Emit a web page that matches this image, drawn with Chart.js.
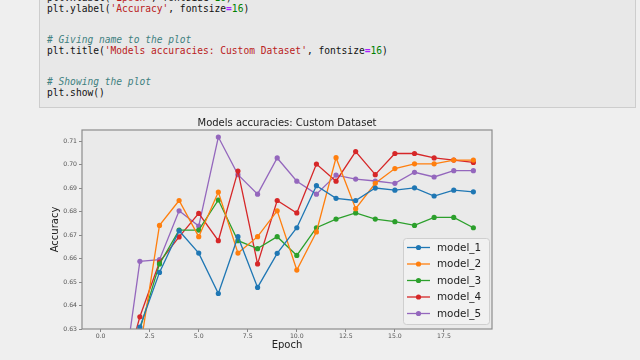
<!DOCTYPE html>
<html><head><meta charset="utf-8">
<script src="https://cdn.jsdelivr.net/npm/chart.js@4/dist/chart.umd.min.js"></script>
<style>
html,body{margin:0;padding:0;width:640px;height:360px;overflow:hidden;background:#efefef;}
#code{position:absolute;left:39px;top:-20px;width:597px;height:128px;background:#e8e8e8;border:1px solid #cdcdcd;box-sizing:border-box;overflow:hidden;}
#code pre{margin:0;position:absolute;left:7px;top:12px;font-family:"DejaVu Sans Mono","Liberation Mono",monospace;font-size:9.6px;line-height:10.5px;color:#111;}
.c{color:#408080;font-style:italic}.s{color:#ba2121}.o{color:#aa22ff;font-weight:bold}.n{color:#008000}
#cv{position:absolute;left:0;top:0;}
</style></head>
<body>
<div id="code"><pre>plt.xlabel(<span class="s">'Epoch'</span>, fontsize<span class="o">=</span><span class="n">16</span>)
plt.ylabel(<span class="s">'Accuracy'</span>, fontsize<span class="o">=</span><span class="n">16</span>)


<span class="c"># Giving name to the plot</span>
plt.title(<span class="s">'Models accuracies: Custom Dataset'</span>, fontsize<span class="o">=</span><span class="n">16</span>)


<span class="c"># Showing the plot</span>
plt.show()</pre></div>
<canvas id="cv" width="640" height="360"></canvas>
<script>
const epochs = [0,1,2,3,4,5,6,7,8,9,10,11,12,13,14,15,16,17,18,19];
const model_1 = [0.45,0.600,0.6308,0.6541,0.6718,0.6623,0.6451,0.6693,0.6477,0.6622,0.6731,0.6910,0.6856,0.6847,0.6900,0.6891,0.6901,0.6866,0.6891,0.6884];
const model_2 = [0.45,0.590,0.6210,0.6741,0.6847,0.6693,0.6883,0.6623,0.6693,0.6803,0.6551,0.6713,0.7029,0.6812,0.6920,0.6983,0.7003,0.7003,0.7019,0.7019];
const model_3 = [0.45,0.600,0.6299,0.6577,0.6721,0.6721,0.6849,0.6676,0.6642,0.6693,0.6613,0.6731,0.6768,0.6794,0.6768,0.6757,0.6741,0.6775,0.6775,0.6731];
const model_4 = [0.45,0.605,0.6352,0.6585,0.6692,0.6792,0.6676,0.6972,0.6577,0.6847,0.6794,0.7002,0.6929,0.7055,0.6957,0.7047,0.7047,0.7028,0.7019,0.7009];
const model_5 = [0.45,0.599,0.6588,0.6595,0.6803,0.6738,0.7117,0.6957,0.6874,0.7028,0.6929,0.6874,0.6955,0.6938,0.6930,0.6920,0.6967,0.6947,0.6974,0.6974];
const seriesNames = ['model_1','model_2','model_3','model_4','model_5'];
const seriesValues = [model_1, model_2, model_3, model_4, model_5];
const seriesColors = ['#1f77b4','#ff7f0e','#2ca02c','#d62728','#9467bd'];
const xTicks = [0,2.5,5,7.5,10,12.5,15,17.5];
const yTicks = [0.63,0.64,0.65,0.66,0.67,0.68,0.69,0.70,0.71];
const titleText = 'Models accuracies: Custom Dataset';
const xLabel = 'Epoch';
const yLabel = 'Accuracy';

const FONT = '"DejaVu Sans", Verdana, sans-serif';

const datasets = seriesNames.map((name, i) => ({
  label: name,
  data: epochs.map((e, j) => ({x: e, y: seriesValues[i][j]})),
  borderColor: seriesColors[i],
  backgroundColor: seriesColors[i],
  borderWidth: 1.3,
  pointRadius: 2.6,
  pointBorderWidth: 0,
  pointHoverRadius: 2.6,
  tension: 0,
  clip: 0
}));

const frame = {
  id: 'frame',
  beforeDatasetsDraw(chart) {
    const a = chart.chartArea, ctx = chart.ctx;
    ctx.save();
    ctx.fillStyle = '#eaeaea';
    ctx.fillRect(a.left, a.top, a.right - a.left, a.bottom - a.top);
    ctx.restore();
  },
  afterDraw(chart) {
    const a = chart.chartArea, ctx = chart.ctx;
    ctx.save();
    ctx.strokeStyle = '#8c8c8c';
    ctx.lineWidth = 1.2;
    ctx.strokeRect(a.left, a.top, a.right - a.left, a.bottom - a.top);
    // legend
    const bx = a.right - 89, by = a.bottom - 91, bw = 86, bh = 86;
    ctx.fillStyle = 'rgba(242,242,242,0.85)';
    ctx.strokeStyle = '#cfcfcf';
    ctx.lineWidth = 1;
    ctx.beginPath();
    ctx.roundRect(bx + 0.5, by + 0.5, bw, bh, 3);
    ctx.fill(); ctx.stroke();
    ctx.font = '10.4px ' + FONT;
    ctx.textBaseline = 'middle';
    ctx.textAlign = 'left';
    chart.data.datasets.forEach((ds, i) => {
      const y = by + 9.5 + i * 16.5;
      ctx.strokeStyle = ds.borderColor;
      ctx.lineWidth = 1.3;
      ctx.beginPath(); ctx.moveTo(bx + 4, y); ctx.lineTo(bx + 27, y); ctx.stroke();
      ctx.fillStyle = ds.borderColor;
      ctx.beginPath(); ctx.arc(bx + 15.5, y, 2.6, 0, Math.PI * 2); ctx.fill();
      ctx.fillStyle = '#222';
      ctx.fillText(ds.label, bx + 34, y + 0.5);
    });
    ctx.restore();
  }
};

new Chart(document.getElementById('cv'), {
  type: 'line',
  data: { datasets },
  options: {
    responsive: false,
    animation: false,
    devicePixelRatio: 1,
    layout: { padding: { top: 117, left: 0, right: 148, bottom: 0 } },
    plugins: {
      legend: { display: false },
      tooltip: { enabled: false },
      title: {
        display: true, text: titleText, fullSize: false,
        color: '#222', font: { family: FONT, size: 10, weight: 'normal', lineHeight: 1.2 },
        padding: { top: 0, bottom: 1 }
      }
    },
    scales: {
      x: {
        type: 'linear', min: -0.95, max: 19.95,
        afterBuildTicks: s => { s.ticks = xTicks.map(v => ({ value: v })); },
        afterFit: s => { s.height = 31; },
        ticks: { callback: v => v.toFixed(1), color: '#555', font: { family: FONT, size: 6.2 }, padding: 1, maxRotation: 0, autoSkip: false },
        grid: { drawOnChartArea: false, drawTicks: true, tickLength: 3, color: '#888' },
        border: { display: false },
        title: { display: true, text: xLabel, color: '#222', font: { family: FONT, size: 10, lineHeight: 1.2 }, padding: { top: 0, bottom: 9 } }
      },
      y: {
        type: 'linear', min: 0.63, max: 0.7147,
        afterBuildTicks: s => { s.ticks = yTicks.map(v => ({ value: v })); },
        afterFit: s => { s.width = 82; },
        ticks: { callback: v => v.toFixed(2), color: '#555', font: { family: FONT, size: 6.2 }, padding: 2, autoSkip: false },
        grid: { drawOnChartArea: false, drawTicks: true, tickLength: 3, color: '#888' },
        border: { display: false },
        title: { display: true, text: yLabel, color: '#222', font: { family: FONT, size: 10, lineHeight: 1.2 }, padding: { top: 49, bottom: 0 } }
      }
    }
  },
  plugins: [frame]
});
</script>
</body></html>
